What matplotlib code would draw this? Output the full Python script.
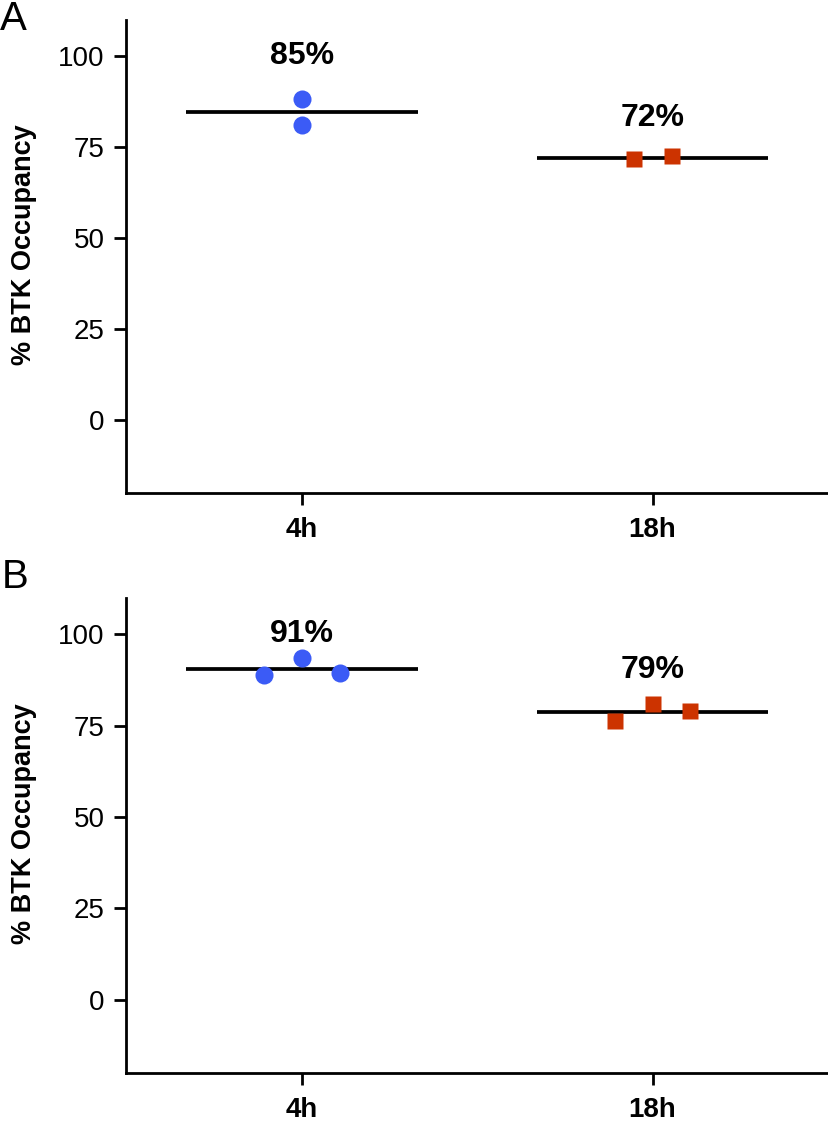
import numpy as np
import matplotlib
matplotlib.use('Agg')
import matplotlib.pyplot as plt

plt.rcParams['font.family'] = ['Liberation Sans', 'DejaVu Sans']

# data
groups = ['4h', '18h']
a_4h = [88.2, 81.1]
a_18h = [71.7, 72.6]
b_4h = [89.0, 93.5, 89.3]
b_18h = [76.2, 81.0, 79.0]

blue = '#3b5bf6'
red = '#cc3300'


def swarm_offsets(vals, min_gap=5.0, step=0.108):
    # spread points sideways only when they would overlap
    vals = np.asarray(vals)
    n = len(vals)
    d = np.abs(vals[:, None] - vals[None, :]) + np.eye(n) * 1e9
    if d.min() >= min_gap:
        return np.zeros(n)
    return (np.arange(n) - (n - 1) / 2) * step


def panel(ax, data, label_off):
    markers = ['o', 's']
    colors = [blue, red]
    sizes = [13, 11.5]
    for i, vals in enumerate(data):
        xs = i + swarm_offsets(vals)
        ax.plot(xs, vals, linestyle='none', marker=markers[i], ms=sizes[i],
                color=colors[i], mec='none', zorder=3)
        m = np.mean(vals)
        ax.hlines(m, i - 0.33, i + 0.33, color='black', lw=2.7, zorder=2)
        ax.text(i, m + label_off[i], f'{round(m)}%', ha='center', va='baseline',
                fontsize=23, fontweight='bold',
                family=['Liberation Sans Narrow', 'Liberation Sans'])
    ax.set_xlim(-0.5, 1.5)
    ax.set_ylim(-20, 110)
    ax.set_yticks([0, 25, 50, 75, 100])
    ax.set_xticks([0, 1])
    ax.set_xticklabels(groups, fontweight='bold', fontsize=20)
    ax.tick_params(axis='y', labelsize=20, length=8.5, width=2.0, pad=7)
    ax.tick_params(axis='x', length=8.5, width=2.0, pad=9)
    for s in ['top', 'right']:
        ax.spines[s].set_visible(False)
    for s in ['left', 'bottom']:
        ax.spines[s].set_linewidth(2.0)
    ax.set_ylabel('% BTK Occupancy', fontsize=19.5, fontweight='bold')
    ax.yaxis.set_label_coords(-0.127, 0.525)


fig = plt.figure(figsize=(8.29, 11.21), dpi=100)
axA = fig.add_axes([0.1524, 0.5605, 0.8464, 0.4217])
axB = fig.add_axes([0.1524, 0.0431, 0.8464, 0.4236])

panel(axA, [a_4h, a_18h], [13.2, 8.7])
panel(axB, [b_4h, b_18h], [7.4, 9.3])

fig.text(0.0, 0.9732, 'A', fontsize=29, va='baseline', ha='left')
fig.text(0.002, 0.4755, 'B', fontsize=29, va='baseline', ha='left')

fig.savefig('out.png', dpi=100)
